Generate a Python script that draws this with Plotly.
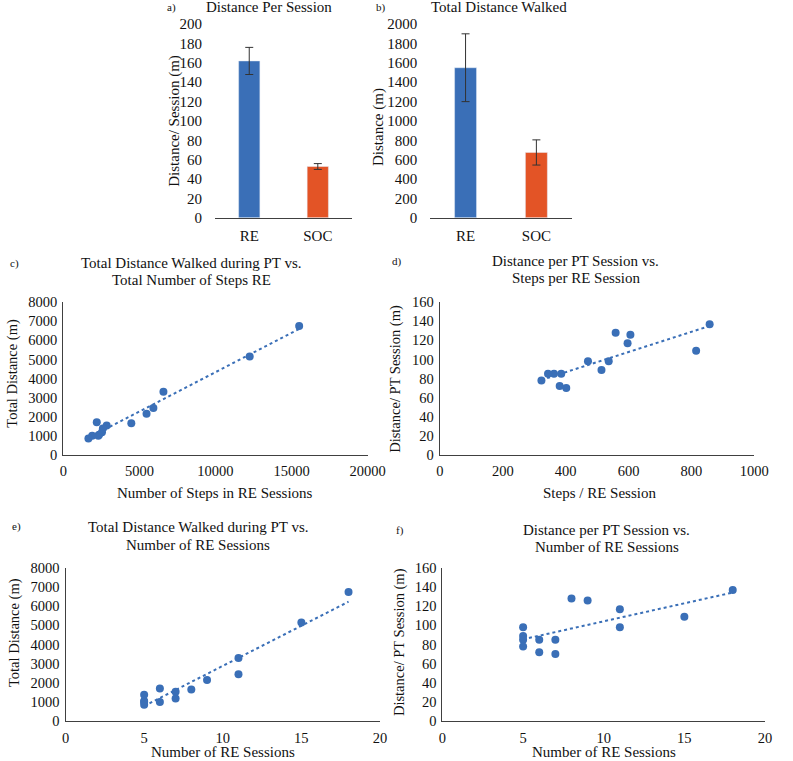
import numpy as np
import plotly.graph_objects as go

# ---------------- data ----------------
groups = ["RE", "SOC"]
dist_per_session_mean = [162, 53]
dist_per_session_err = [14, 3]
total_dist_mean = [1550, 675]
total_dist_err = [350, 130]

# per participant
sessions = [18, 15, 11, 11, 9, 8, 7, 7, 6, 6, 5, 5, 5, 5]
steps_per_session = [858, 815, 597, 537, 606, 559, 363, 402, 381, 386, 471, 514, 344, 323]
dist_per_pt_session = [137, 109, 117, 98, 126, 128, 85, 70, 72, 85, 98, 89, 85, 78]
total_steps = [15500, 12250, 6580, 5920, 5470, 4470, 2540, 2850, 2300, 2200, 2350, 2600, 1900, 1650]
total_distance = [6750, 5150, 3300, 2450, 2150, 1650, 1180, 1530, 1000, 1700, 1050, 1380, 1000, 850]

# ---------------- style ----------------
W, H = 793, 761
FONT = "Liberation Serif"
BLUE = "#3a6fb7"
ORANGE = "#e35426"
AXC = "#404040"


def px(x):
    return x / W


def py(y):
    return 1 - y / H


fig = go.Figure()

# panel geometry (pixels): x0, x1, ytop, ybottom
panels = {
    "a": (217, 358, 25, 217.7),
    "b": (438.3, 584, 25, 217.7),
    "c": (61, 374, 301.7, 453.3),
    "d": (448.3, 771.7, 301.7, 453.3),
    "e": (63.3, 386.7, 566, 718.3),
    "f": (451, 782.7, 566, 718.3),
}
names = ["a", "b", "c", "d", "e", "f"]
layout = {}
for i, k in enumerate(names):
    x0, x1, yt, yb = panels[k]
    n = "" if i == 0 else str(i + 1)
    layout["xaxis" + n] = dict(domain=[px(x0), px(x1)], anchor="y" + n)
    layout["yaxis" + n] = dict(domain=[py(yb), py(yt)], anchor="x" + n)

tickfont_big = dict(family=FONT, size=15, color="#111")
tickfont = dict(family=FONT, size=14.5, color="#111")

# ---- bar panels ----
fig.add_trace(go.Bar(x=groups, y=dist_per_session_mean, marker_color=[BLUE, ORANGE],
                     error_y=dict(type="data", array=dist_per_session_err, color="#333", thickness=1, width=4),
                     xaxis="x", yaxis="y", width=0.31))
fig.add_trace(go.Bar(x=groups, y=total_dist_mean, marker_color=[BLUE, ORANGE],
                     error_y=dict(type="data", array=total_dist_err, color="#333", thickness=1, width=4),
                     xaxis="x2", yaxis="y2", width=0.31))

for n, rng, dt in [("", [0, 200], 20), ("2", [0, 2000], 200)]:
    layout["xaxis" + n].update(showline=True, linecolor=AXC, linewidth=1.2, ticks="",
                               tickfont=tickfont_big, ticklabelstandoff=4, showgrid=False, zeroline=False)
    layout["yaxis" + n].update(range=rng, dtick=dt, showline=False, showgrid=False, zeroline=False,
                               tickfont=tickfont_big, ticklabelstandoff=12, tickformat="d")


def trend(x, y):
    x = np.asarray(x, float)
    y = np.asarray(y, float)
    m, b = np.polyfit(x, y, 1)
    xs = np.array([x.min(), x.max()])
    return xs, m * xs + b


scat = [
    ("3", total_steps, total_distance, [0, 20000], 5000, [0, 8000], 1000),
    ("4", steps_per_session, dist_per_pt_session, [0, 1000], 200, [0, 160], 20),
    ("5", sessions, total_distance, [0, 20], 5, [0, 8000], 1000),
    ("6", sessions, dist_per_pt_session, [0, 20], 5, [0, 160], 20),
]
for n, xv, yv, xr, xd, yr, yd in scat:
    tx, ty = trend(xv, yv)
    fig.add_trace(go.Scatter(x=tx, y=ty, mode="lines", line=dict(color=BLUE, width=2, dash="dot"),
                             xaxis="x" + n, yaxis="y" + n, hoverinfo="skip"))
    fig.add_trace(go.Scatter(x=xv, y=yv, mode="markers", marker=dict(color=BLUE, size=8),
                             xaxis="x" + n, yaxis="y" + n))
    layout["xaxis" + n].update(range=xr, dtick=xd, showline=True, linecolor=AXC, linewidth=1.2,
                               showgrid=False, zeroline=False, ticks="", tickfont=tickfont,
                               ticklabelstandoff=3, tickformat="d")
    layout["yaxis" + n].update(range=yr, dtick=yd, showline=True, linecolor=AXC, linewidth=1.2,
                               showgrid=False, zeroline=False, ticks="", tickfont=tickfont,
                               ticklabelstandoff=2, tickformat="d")

anns = []


def txt(x, y, s, size=14, angle=0, xanchor="center"):
    anns.append(dict(x=px(x), y=py(y), xref="paper", yref="paper", text=s, showarrow=False,
                     textangle=angle, xanchor=xanchor, yanchor="middle",
                     font=dict(family=FONT, size=size, color="#111")))


# labels
txt(172, 8, "a)", 11)
txt(273, 8, "Distance Per Session", 15)
txt(388, 8, "b)", 11)
txt(509, 8, "Total Distance Walked", 15)
txt(175, 121, "Distance/ Session (m)", 15, -90)
txt(385, 127, "Distance (m)", 15, -90)

txt(11, 263, "c)", 11)
txt(193, 263, "Total Distance Walked during PT vs.", 15)
txt(193, 280, "Total Number of Steps RE", 15)
txt(9, 372, "Total Distance (m)", 14.5, -90)
txt(217, 491, "Number of Steps in RE Sessions", 15)

txt(404, 261, "d)", 11)
txt(588, 261, "Distance per PT Session vs.", 15)
txt(588, 278, "Steps per RE Session", 15)
txt(403, 378, "Distance/ PT Session (m)", 14.5, -90)
txt(613, 491, "Steps / RE Session", 15)

txt(13, 525, "e)", 11)
txt(200, 525, "Total Distance Walked during PT vs.", 15)
txt(200, 543, "Number of RE Sessions", 15)
txt(11, 630, "Total Distance (m)", 14.5, -90)
txt(225, 749, "Number of RE Sessions", 15)

txt(407, 529, "f)", 11)
txt(620, 528, "Distance per PT Session vs.", 15)
txt(620, 545, "Number of RE Sessions", 15)
txt(407, 640, "Distance/ PT Session (m)", 14.5, -90)
txt(617, 749, "Number of RE Sessions", 15)

fig.update_layout(**layout)
fig.update_layout(margin=dict(l=0, r=0, t=0, b=0), showlegend=False, autosize=True,
                  plot_bgcolor="white", paper_bgcolor="white", annotations=anns,
                  font=dict(family=FONT))
fig.write_html("out.html",
               config={"displayModeBar": False},
               default_width="793px",
               default_height="781px; position:fixed; left:0; top:-9px")
